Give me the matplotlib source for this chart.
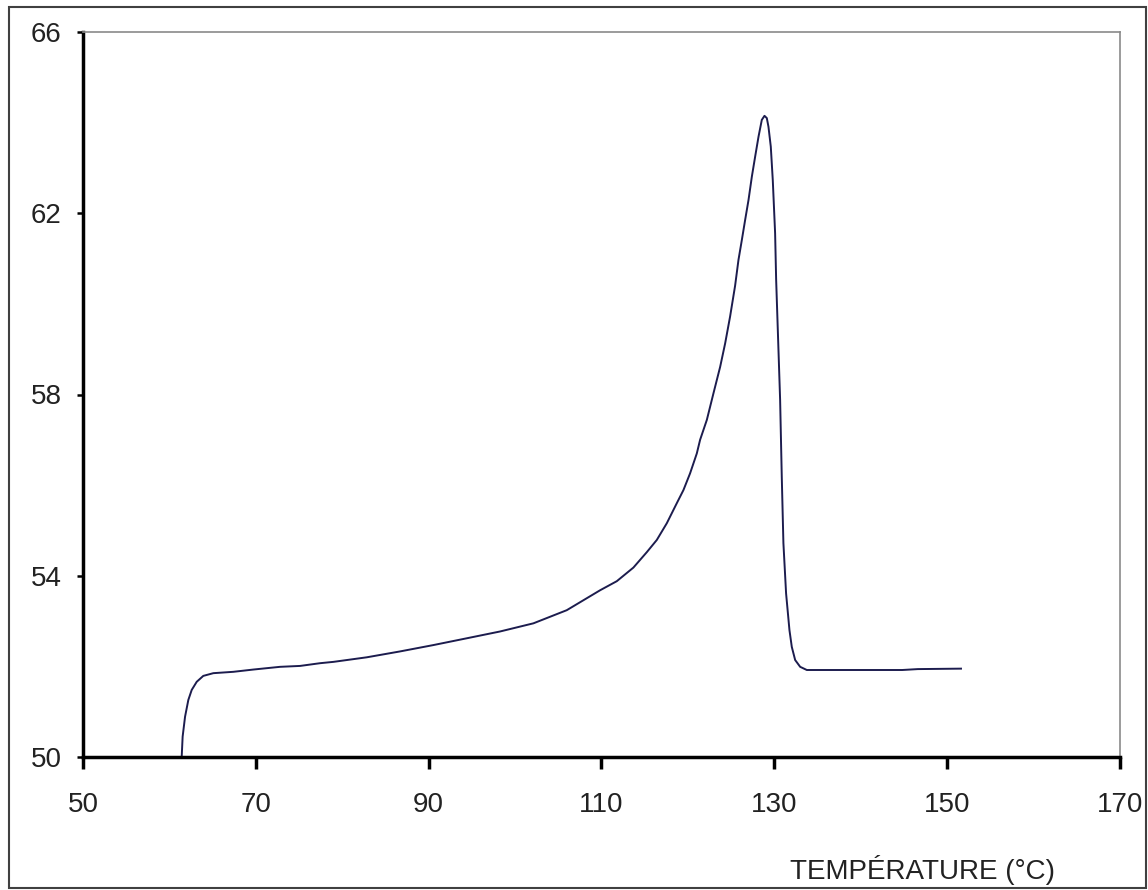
import matplotlib
matplotlib.use("Agg")
import matplotlib.pyplot as plt
from matplotlib.patches import Rectangle

temperature = [61.42, 61.53, 61.81, 62.19, 62.58, 63.16, 63.92, 65.08, 67.40, 69.71,
               72.80, 75.12, 77.43, 79.0, 82.83, 86.69, 90.54, 94.41, 98.26, 102.12,
               105.98, 109.84, 111.77, 113.69, 115.24, 116.40, 117.56, 118.71, 119.48,
               120.25, 121.03, 121.41, 122.19, 122.96, 123.73, 124.31, 124.88, 125.46,
               125.85, 126.24, 126.62, 127.01, 127.40, 127.78, 128.17, 128.55, 128.86,
               129.13, 129.32, 129.59, 129.82, 130.09, 130.21, 130.67, 130.86, 131.05,
               131.36, 131.75, 132.02, 132.41, 132.99, 133.76, 144.8, 146.6, 151.6]
signal = [50.0, 50.45, 50.89, 51.26, 51.48, 51.66, 51.79, 51.85, 51.88, 51.93,
          51.99, 52.01, 52.07, 52.10, 52.20, 52.33, 52.47, 52.62, 52.77, 52.95,
          53.24, 53.68, 53.88, 54.18, 54.52, 54.79, 55.16, 55.60, 55.89,
          56.26, 56.70, 57.00, 57.44, 58.03, 58.61, 59.13, 59.72, 60.40,
          60.97, 61.41, 61.85, 62.29, 62.81, 63.25, 63.69, 64.06, 64.15,
          64.10, 63.91, 63.47, 62.73, 61.56, 60.53, 57.88, 56.19, 54.72,
          53.61, 52.80, 52.43, 52.14, 51.99, 51.92, 51.92, 51.94, 51.95]
x_ticks = [50, 70, 90, 110, 130, 150, 170]
y_ticks = [50, 54, 58, 62, 66]
x_label = "TEMPÉRATURE (°C)"

plt.rcParams['font.family'] = ['Liberation Sans', 'DejaVu Sans']

W, H = 1148, 890
fig = plt.figure(figsize=(W / 100, H / 100), dpi=100)
ax = fig.add_axes([83 / W, (H - 757) / H, (1120 - 83) / W, (757 - 32) / H])

ax.plot(temperature, signal, color='#1c1c4e', lw=1.4)

ax.set_xlim(50, 170)
ax.set_ylim(50, 66)
ax.set_xticks(x_ticks)
ax.set_yticks(y_ticks)
ax.tick_params(axis='both', labelsize=20, colors='black', labelcolor='#222222',
               direction='out')
ax.tick_params(axis='x', length=8.5, width=2.5, pad=17)
ax.tick_params(axis='y', length=4.5, width=1.8, pad=11)

for s in ['left', 'bottom']:
    ax.spines[s].set_linewidth(2.5)
    ax.spines[s].set_color('black')
for s in ['top', 'right']:
    ax.spines[s].set_linewidth(1.2)
    ax.spines[s].set_color('#8a8a8a')

fig.text(923 / W, 1 - 870 / H, x_label, fontsize=20, ha='center', va='center',
         color='#222222')

fig.patches.append(Rectangle((9 / W, (H - 888) / H), (1146 - 9) / W, (888 - 7) / H,
                             transform=fig.transFigure, fill=False,
                             edgecolor='#404040', lw=1.5))

fig.savefig("out.png", dpi=100)
